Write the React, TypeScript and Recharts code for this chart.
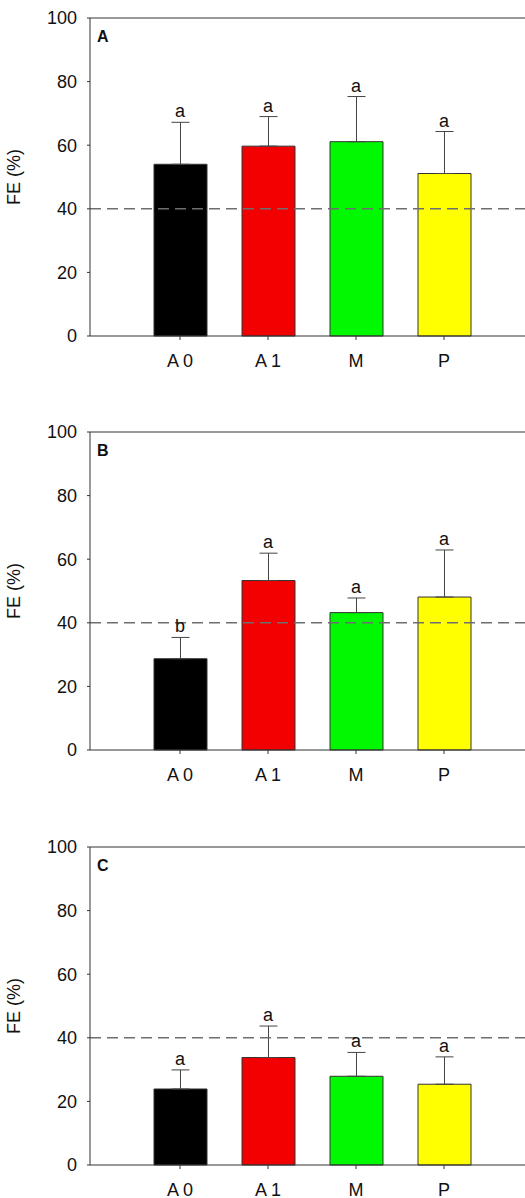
import * as React from 'react';
import {
  ComposedChart,
  Bar,
  Line,
  Cell,
  XAxis,
  YAxis,
  ErrorBar,
  ReferenceLine,
  LabelList,
} from 'recharts';

const CATEGORIES = ['A 0', 'A 1', 'M', 'P'];
const BAR_COLORS = ['#000000', '#f20000', '#00f800', '#ffff00'];
const Y_TICKS = [0, 20, 40, 60, 80, 100];

const MEANS_A = [54.0, 59.7, 61.1, 51.1];
const ERR_A = [13.2, 9.3, 14.2, 13.2];
const LETTERS_A = ['a', 'a', 'a', 'a'];

const MEANS_B = [28.7, 53.3, 43.2, 48.1];
const ERR_B = [6.7, 8.6, 4.6, 14.8];
const LETTERS_B = ['b', 'a', 'a', 'a'];

const MEANS_C = [23.9, 33.8, 27.9, 25.4];
const ERR_C = [6.0, 9.9, 7.5, 8.6];
const LETTERS_C = ['a', 'a', 'a', 'a'];

const THRESHOLD = 40;

const FONT = '"Liberation Sans", Arial, sans-serif';
const AXIS = '#333333';
const FS = 18;

type PanelProps = {
  label: string;
  means: number[];
  errs: number[];
  letters: string[];
  height: number;
};

function Panel({ label, means, errs, letters, height }: PanelProps) {
  const data = CATEGORIES.map((c, i) => ({
    name: c,
    mean: means[i],
    err: [0, errs[i]],
    top: means[i] + errs[i],
    letter: letters[i],
  }));

  return (
    <div style={{ position: 'relative', height }}>
      <ComposedChart
        width={540}
        height={height}
        data={data}
        margin={{ top: 18, right: 10, bottom: height - 18 - 318 - 30, left: 0 }}
        style={{ fontFamily: FONT }}
      >
        <XAxis
          dataKey="name"
          height={30}
          padding={{ left: 46, right: 42 }}
          axisLine={{ stroke: AXIS }}
          tickLine={{ stroke: AXIS }}
          tickSize={4}
          tickMargin={14}
          tick={{ fontSize: FS, fill: '#111' }}
        />
        <YAxis
          width={90}
          domain={[0, 100]}
          ticks={Y_TICKS}
          interval={0}
          axisLine={{ stroke: AXIS }}
          tickLine={{ stroke: AXIS }}
          tickSize={3}
          tickMargin={10}
          tick={{ fontSize: FS, fill: '#111' }}
          label={{
            value: 'FE (%)',
            angle: -90,
            position: 'insideLeft',
            offset: 14,
            style: { fontSize: FS, fill: '#111', textAnchor: 'middle' },
          }}
        />
        <ReferenceLine y={100} stroke={AXIS} strokeWidth={1} />
        <Bar dataKey="mean" barSize={53} stroke="#333" strokeWidth={1} isAnimationActive={false}>
          {data.map((d, i) => (
            <Cell key={d.name} fill={BAR_COLORS[i]} />
          ))}
          <ErrorBar dataKey="err" width={9} stroke="#444" strokeWidth={1} direction="y" />
        </Bar>
        <Line
          dataKey="top"
          stroke="none"
          dot={false}
          activeDot={false}
          isAnimationActive={false}
        >
          <LabelList
            dataKey="letter"
            position="top"
            offset={5}
            style={{ fontSize: FS, fill: '#111' }}
          />
        </Line>
        <ReferenceLine
          y={THRESHOLD}
          stroke="#6e6e6e"
          strokeWidth={1.5}
          strokeDasharray="11 6"
        />
      </ComposedChart>
      <div
        style={{
          position: 'absolute',
          left: 97,
          top: 28,
          fontFamily: FONT,
          fontWeight: 'bold',
          fontSize: 16,
          lineHeight: '18px',
          color: '#111',
        }}
      >
        {label}
      </div>
    </div>
  );
}

export default function App() {
  return (
    <div
      style={{
        position: 'absolute',
        left: 0,
        top: 0,
        width: 525,
        height: 1198,
        overflow: 'hidden',
        background: '#fff',
      }}
    >
      <Panel label="A" means={MEANS_A} errs={ERR_A} letters={LETTERS_A} height={414} />
      <Panel label="B" means={MEANS_B} errs={ERR_B} letters={LETTERS_B} height={415} />
      <Panel label="C" means={MEANS_C} errs={ERR_C} letters={LETTERS_C} height={369} />
    </div>
  );
}
